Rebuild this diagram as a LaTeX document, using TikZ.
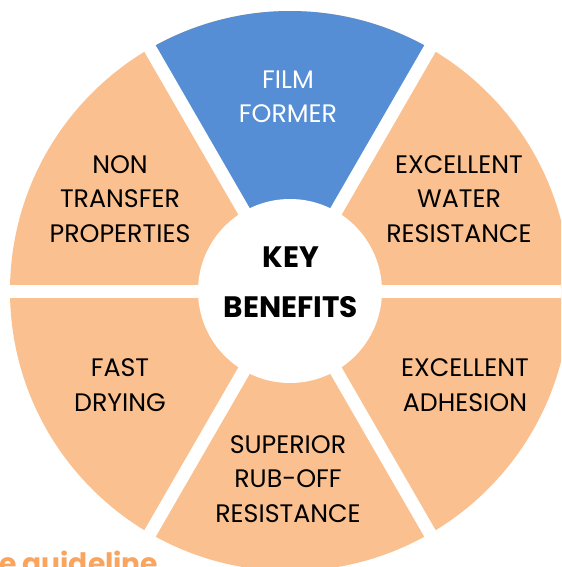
\documentclass[tikz,border=0pt]{standalone}
\usepackage{fontspec}
\setmainfont{Poppins}
\usetikzlibrary{calc}

\definecolor{peach}{RGB}{250,192,143}
\definecolor{filmblue}{RGB}{85,142,213}
\definecolor{guideorange}{RGB}{250,165,95}

\begin{document}
\begin{tikzpicture}[x=0.025cm,y=-0.025cm,
        benefit/.style={align=center,font=\fontsize{18}{24.5}\selectfont},
        gap/.style={white,line width=0.325cm}]
        % 画布大小
        \useasboundingbox (0,0) rectangle (561,567);
        \clip (0,0) rectangle (561,567);

        % 圆心O
        \coordinate (O) at (290,291);

        % 六个扇形, 上方一个为蓝色
        \fill[peach] (O) circle[radius=280];
        \fill[filmblue] (O) -- ($(O)+(-60:280)$) arc[start angle=-60,end angle=-120,radius=280] -- cycle;

        % 扇形之间的白色间隙
        \foreach \a in {0,60,120}
            {
                \draw[gap] ($(O)+(\a:300)$) -- ($(O)+(\a+180:300)$);
            }

        % 中心白圆
        \fill[white] (O) circle[radius=92];

        % 文字
        \node[benefit,text=white] (film) at (288,97) {FILM\\FORMER};
        \node[benefit] (water) at (459,199) {EXCELLENT\\WATER\\RESISTANCE};
        \node[benefit] (nontransfer) at (120,199) {NON\\TRANSFER\\PROPERTIES};
        \node[align=center,font=\fontsize{21}{35.5}\selectfont\bfseries] (key) at (291,282) {KEY\\BENEFITS};
        \node[benefit] (drying) at (120,385) {FAST\\DRYING};
        \node[benefit] (adhesion) at (465,385) {EXCELLENT\\ADHESION};
        \node[benefit] (ruboff) at (288,479) {SUPERIOR\\RUB-OFF\\RESISTANCE};

        % 底部被裁掉的橙色文字
        \node[anchor=base west,inner sep=0pt,text=guideorange,font=\fontsize{20}{24}\selectfont\bfseries] (guide) at (-1,573) {e guideline};

    \end{tikzpicture}
\end{document}
